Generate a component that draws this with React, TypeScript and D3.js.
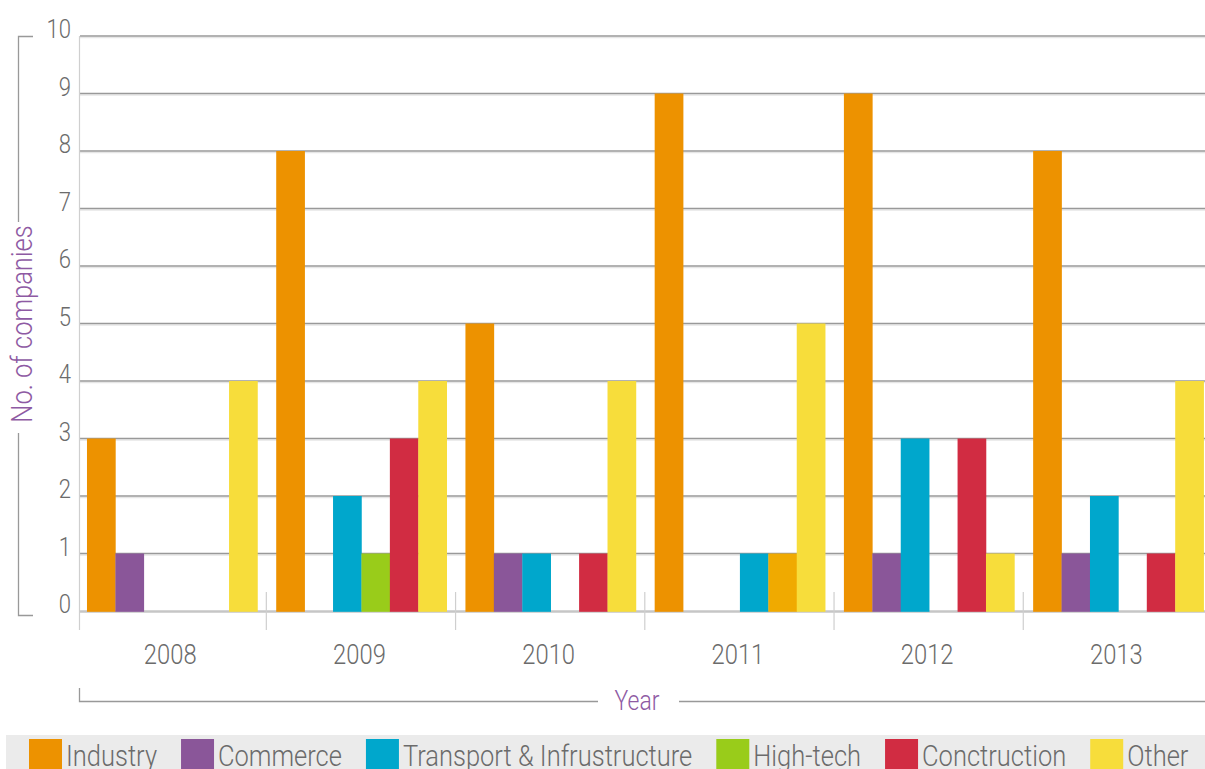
import { useEffect, useRef } from 'react';
import * as d3 from 'd3';

const years = ['2008', '2009', '2010', '2011', '2012', '2013'];
const sectors = ['Industry', 'Commerce', 'Transport & Infrustructure', 'High-tech', 'Conctruction', 'Other'];

// 2011 as drawn in the original: the blue and dark-yellow bars sit in the
// high-tech and construction slots
const industry = [3, 8, 5, 9, 9, 8];
const commerce = [1, 0, 1, 0, 1, 1];
const transport = [0, 2, 1, 0, 3, 2];
const highTech = [0, 1, 0, 1, 0, 0];
const construction = [0, 3, 1, 1, 3, 1];
const other = [4, 4, 4, 5, 1, 4];

const yTicks = [0, 1, 2, 3, 4, 5, 6, 7, 8, 9, 10];

const seriesValues = [industry, commerce, transport, highTech, construction, other];
const colors = ['#ED9200', '#8A5699', '#00A7CC', '#99CC1A', '#D12C42', '#F7DD3B'];
const oddColour: Record<string, string> = {
  '2011|High-tech': '#00A7CC',
  '2011|Conctruction': '#F0AA00',
};

const W = 1205;
const H = 769;
const FONT = "Roboto, 'DejaVu Sans', sans-serif";
const TEXT = '#6b6b6b';
const PURPLE = '#8E5AA3';
const SQUEEZE = 0.85; // the original uses a narrow DIN-like face

const App = () => {
  const svgRef = useRef<SVGSVGElement>(null);

  useEffect(() => {
    if (!svgRef.current) return;
    const svg = d3.select(svgRef.current);
    svg.selectAll('*').remove();

    const label = (tf: string, txt: string, size: number, fill: string, anchor = 'start') =>
      svg.append('text')
        .attr('transform', `${tf} scale(${SQUEEZE},1)`)
        .attr('text-anchor', anchor)
        .style('font-family', FONT).style('font-weight', 300)
        .style('font-size', `${size}px`).attr('fill', fill)
        .text(txt);

    const x0 = d3.scaleBand<string>().domain(years).range([77.6, 1213]).padding(0);
    const x1 = d3.scaleBand<string>().domain(sectors).range([0, x0.bandwidth()]).paddingOuter(0.33).paddingInner(0);
    const y = d3.scaleLinear().domain([0, 10]).range([611, 36]);

    // gridlines
    const grid = svg.append('g');
    yTicks.filter(v => v > 0).forEach(v => {
      grid.append('line').attr('x1', 80).attr('x2', W).attr('y1', y(v) + 1.6).attr('y2', y(v) + 1.6)
        .attr('stroke', '#e6e6e6').attr('stroke-width', 1.4);
      grid.append('line').attr('x1', 80).attr('x2', W).attr('y1', y(v)).attr('y2', y(v))
        .attr('stroke', '#999').attr('stroke-width', 1.4);
    });
    grid.append('line').attr('x1', 80).attr('x2', W).attr('y1', y(0) + 0.5).attr('y2', y(0) + 0.5)
      .attr('stroke', '#c6c6c6').attr('stroke-width', 2.4);

    // axis line and group separators
    svg.append('line').attr('x1', 79.5).attr('x2', 79.5).attr('y1', y(10)).attr('y2', 630)
      .attr('stroke', '#cfcfcf').attr('stroke-width', 1.2);
    years.slice(1).forEach(yr => {
      const xx = x0(yr)! - 0.5;
      svg.append('line').attr('x1', xx).attr('x2', xx).attr('y1', 592).attr('y2', 630)
        .attr('stroke', '#cfcfcf').attr('stroke-width', 1.2);
    });

    // y tick labels
    yTicks.forEach(v => label(`translate(71,${y(v) + 2})`, String(v), 26, TEXT, 'end'));

    // bars
    const groups = svg.append('g').selectAll('g').data(years).enter().append('g')
      .attr('transform', d => `translate(${x0(d)},0)`);
    groups.selectAll('rect')
      .data((yr, i) => sectors.map((s, k) => ({ yr, s, v: seriesValues[k][i], c: oddColour[`${yr}|${s}`] || colors[k] })))
      .enter().append('rect')
      .filter(d => d.v > 0)
      .attr('x', d => x1(d.s)!)
      .attr('width', x1.bandwidth() + 0.3)
      .attr('y', d => y(d.v))
      .attr('height', d => y(0) - y(d.v) + 0.8)
      .attr('fill', d => d.c);

    // year labels
    years.forEach(yr => label(`translate(${x0(yr)! + x0.bandwidth() / 2 - 2},664)`, yr, 28, TEXT, 'middle'));

    // x title with bracket
    svg.append('path').attr('d', 'M79.5,688V701.5H598').attr('fill', 'none').attr('stroke', '#999').attr('stroke-width', 1.3);
    svg.append('line').attr('x1', 679).attr('x2', W).attr('y1', 701.5).attr('y2', 701.5).attr('stroke', '#999').attr('stroke-width', 1.3);
    label('translate(637,710)', 'Year', 27, PURPLE, 'middle');

    // y title with bracket
    svg.append('path').attr('d', 'M33,36.5H18.5V222').attr('fill', 'none').attr('stroke', '#999').attr('stroke-width', 1.3);
    svg.append('path').attr('d', 'M18.5,433V615.5H33').attr('fill', 'none').attr('stroke', '#999').attr('stroke-width', 1.3);
    label('translate(32,324) rotate(-90)', 'No. of companies', 30, PURPLE, 'middle');

    // legend
    svg.append('rect').attr('x', 6).attr('y', 735).attr('width', W - 6).attr('height', H - 735).attr('fill', '#ebebeb');
    let lx = 29;
    sectors.forEach((s, k) => {
      svg.append('rect').attr('x', lx).attr('y', 739).attr('width', 33).attr('height', 33).attr('fill', colors[k]);
      const t = label(`translate(${lx + 37},766)`, s, 30, TEXT);
      const w = (t.node() as SVGTextElement).getComputedTextLength() * SQUEEZE;
      lx = lx + 37 + w + 24;
    });
  }, []);

  return (
    <div style={{ position: 'absolute', left: 0, top: 0, width: W, height: H, background: '#fff' }}>
      <svg ref={svgRef} width={W} height={H} style={{ display: 'block' }}></svg>
    </div>
  );
};

export default App;
